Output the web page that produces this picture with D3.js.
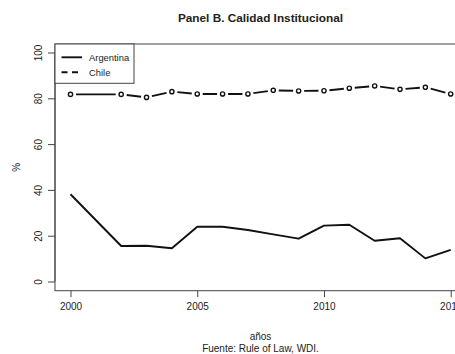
<!DOCTYPE html>
<html>
<head>
<meta charset="utf-8">
<script src="https://cdn.jsdelivr.net/npm/d3@7"></script>
<style>
  html, body { margin: 0; padding: 0; background: #fff; }
  svg { display: block; }
  text { font-family: "Liberation Sans", Arial, sans-serif; fill: #222; }
</style>
</head>
<body>
<svg id="chart" width="455" height="354"></svg>
<script>
// ---- data ----
const years = [2000, 2002, 2003, 2004, 2005, 2006, 2007, 2008, 2009, 2010, 2011, 2012, 2013, 2014, 2015];
const argentina = [38.1, 15.5, 15.6, 14.5, 23.9, 23.9, 22.5, 20.6, 18.7, 24.4, 24.8, 17.8, 18.9, 10.1, 13.8];
const chile = [81.7, 81.7, 80.4, 82.9, 81.9, 81.9, 81.9, 83.5, 83.2, 83.3, 84.4, 85.4, 83.9, 84.8, 81.9];
const xTicks = [2000, 2005, 2010, 2015];
const yTicks = [0, 20, 40, 60, 80, 100];
const seriesNames = ["Argentina", "Chile"];
const title = "Panel B. Calidad Institucional";
const xLabel = "años";
const sourceNote = "Fuente: Rule of Law, WDI.";
const yLabel = "%";

// ---- layout ----
const svg = d3.select("#chart");
const box = { left: 55, top: 44, right: 466, bottom: 290.7 };
const x = d3.scaleLinear().domain([2000, 2015]).range([70.5, 450.7]);
const y = d3.scaleLinear().domain([0, 100]).range([281.5, 52.5]);
const axisColor = "#444";
const fontSmall = "10px";

// title
svg.append("text").attr("x", 260.5).attr("y", 22)
  .attr("text-anchor", "middle").attr("font-weight", "bold").attr("font-size", "11.8px")
  .text(title);

// plot box
svg.append("rect")
  .attr("x", box.left).attr("y", box.top)
  .attr("width", box.right - box.left).attr("height", box.bottom - box.top)
  .attr("fill", "none").attr("stroke", axisColor).attr("stroke-width", 1);

// x axis
const xAxis = d3.axisBottom(x).tickValues(xTicks).tickFormat(d3.format("d")).tickSize(6.5).tickPadding(6);
const gx = svg.append("g").attr("transform", `translate(0,${box.bottom})`).call(xAxis);
gx.select(".domain").remove();
gx.selectAll(".tick line").attr("stroke", axisColor);
gx.selectAll(".tick text").attr("font-size", fontSmall).attr("fill", "#222")
  .attr("font-family", "'Liberation Sans', Arial, sans-serif");

// y axis
const yAxis = d3.axisLeft(y).tickValues(yTicks).tickSize(7).tickFormat(d3.format("d"));
const gy = svg.append("g").attr("transform", `translate(${box.left},0)`).call(yAxis);
gy.select(".domain").attr("stroke", axisColor).attr("d", `M0,${y(0)}V${y(100)}`);
gy.selectAll(".tick line").attr("stroke", axisColor);
gy.selectAll(".tick text").remove();
gy.selectAll(".tick").append("text")
  .attr("transform", "translate(-17,0) rotate(-90)")
  .attr("text-anchor", "middle").attr("dy", "0.35em")
  .attr("font-size", fontSmall).attr("fill", "#222")
  .attr("font-family", "'Liberation Sans', Arial, sans-serif")
  .text(d => d);

// axis labels
svg.append("text").attr("transform", `translate(16,${(box.top + box.bottom) / 2}) rotate(-90)`)
  .attr("text-anchor", "middle").attr("dy", "0.35em").attr("font-size", fontSmall).text(yLabel);
svg.append("text").attr("x", 260.5).attr("y", 340)
  .attr("text-anchor", "middle").attr("font-size", fontSmall).text(xLabel);
svg.append("text").attr("x", 260.5).attr("y", 352)
  .attr("text-anchor", "middle").attr("font-size", fontSmall).text(sourceNote);

// clip to plot region
svg.append("clipPath").attr("id", "plotclip").append("rect")
  .attr("x", box.left).attr("y", box.top)
  .attr("width", box.right - box.left).attr("height", box.bottom - box.top);
const plot = svg.append("g").attr("clip-path", "url(#plotclip)");

// Argentina line
const line = d3.line().x((d, i) => x(years[i])).y(d => y(d));
plot.append("path").datum(argentina)
  .attr("d", line).attr("fill", "none").attr("stroke", "#111")
  .attr("stroke-width", 1.9).attr("stroke-linejoin", "round");

// Chile: type "b" (points with gapped segments)
const gap = 5.5;
const pts = chile.map((v, i) => [x(years[i]), y(v)]);
const segs = [];
for (let i = 0; i < pts.length - 1; i++) {
  const [x0, y0] = pts[i], [x1, y1] = pts[i + 1];
  const len = Math.hypot(x1 - x0, y1 - y0);
  if (len > 2 * gap) {
    const ux = (x1 - x0) / len, uy = (y1 - y0) / len;
    segs.push([x0 + ux * gap, y0 + uy * gap, x1 - ux * gap, y1 - uy * gap]);
  }
}
plot.selectAll("line.chile").data(segs).enter().append("line")
  .attr("class", "chile")
  .attr("x1", d => d[0]).attr("y1", d => d[1]).attr("x2", d => d[2]).attr("y2", d => d[3])
  .attr("stroke", "#111").attr("stroke-width", 1.9);
plot.selectAll("circle.chile").data(chile).enter().append("circle")
  .attr("class", "chile")
  .attr("cx", (d, i) => x(years[i])).attr("cy", d => y(d)).attr("r", 2.1)
  .attr("fill", "#fff").attr("stroke", "#111").attr("stroke-width", 1.4);

// legend
const lg = svg.append("g");
lg.append("rect").attr("x", box.left).attr("y", box.top).attr("width", 79).attr("height", 39.3)
  .attr("fill", "#fff").attr("stroke", axisColor).attr("stroke-width", 1);
const legendY = [57.3, 72.3];
const dashes = [null, "6,4.5"];
seriesNames.forEach((name, i) => {
  lg.append("line").attr("x1", 61.5).attr("x2", 82).attr("y1", legendY[i]).attr("y2", legendY[i])
    .attr("stroke", "#111").attr("stroke-width", 1.9)
    .attr("stroke-dasharray", dashes[i]);
  lg.append("text").attr("x", 89).attr("y", legendY[i]).attr("dy", "0.35em")
    .attr("font-size", "9.4px").text(name);
});
</script>
</body>
</html>
